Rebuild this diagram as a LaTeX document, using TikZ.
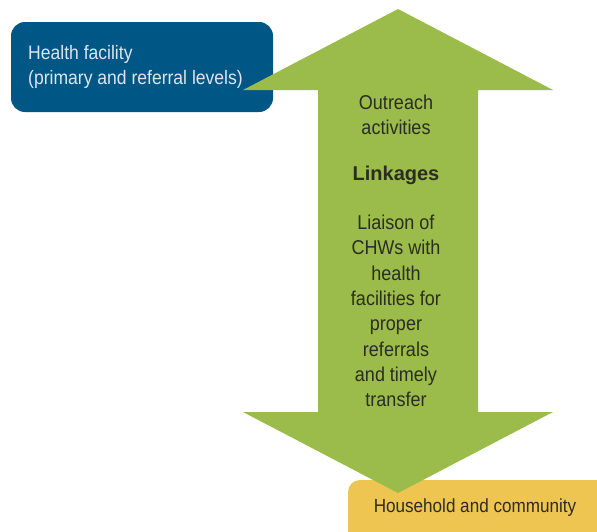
\documentclass[tikz,border=0pt]{standalone}
\usepackage{fontspec}
\setmainfont{Liberation Sans}[FakeStretch=0.9]
\newfontfamily\linkfont{Liberation Sans}
\definecolor{facilityblue}{HTML}{005684}
\definecolor{linkgreen}{HTML}{9BBB4A}
\definecolor{homeyellow}{HTML}{EFC552}
\definecolor{greentext}{HTML}{2B2D22}
\definecolor{bluetext}{HTML}{DDE6EE}
\begin{document}
\begin{tikzpicture}[x=1pt,y=-1pt,
  label text/.style={font=\fontsize{20}{25.3}\selectfont, text=greentext, align=center, inner sep=0pt}]
\useasboundingbox (0,0) rectangle (597,531);

\fill[facilityblue, rounded corners=14] (11,22) rectangle (273,112);
\node[anchor=west, align=left, text=bluetext, inner sep=0pt,
  font=\fontsize{19.5}{25}\selectfont] (facility) at (28,67)
  {Health facility\\(primary and referral levels)};

\begin{scope}
\clip (0,0) rectangle (597,531);
\fill[homeyellow, rounded corners=12] (348,480) rectangle (612,550);
\end{scope}
\node[text=greentext, inner sep=0pt, font=\fontsize{19}{24}\selectfont] (household) at (475,508)
  {Household and community};

\fill[linkgreen] (398,9) -- (553,90) -- (478,90) -- (478,412) -- (553,412)
  -- (398,493) -- (243,412) -- (318,412) -- (318,90) -- (243,90) -- cycle;

\node[label text] (outreach) at (396,114.5) {Outreach\\activities};
\node[label text, font=\linkfont\bfseries\fontsize{20}{25}\selectfont] (linkages) at (396,175) {Linkages};
\node[label text] (liaison) at (396,311)
  {Liaison of\\CHWs with\\health\\facilities for\\proper\\referrals\\and timely\\transfer};
\end{tikzpicture}
\end{document}
